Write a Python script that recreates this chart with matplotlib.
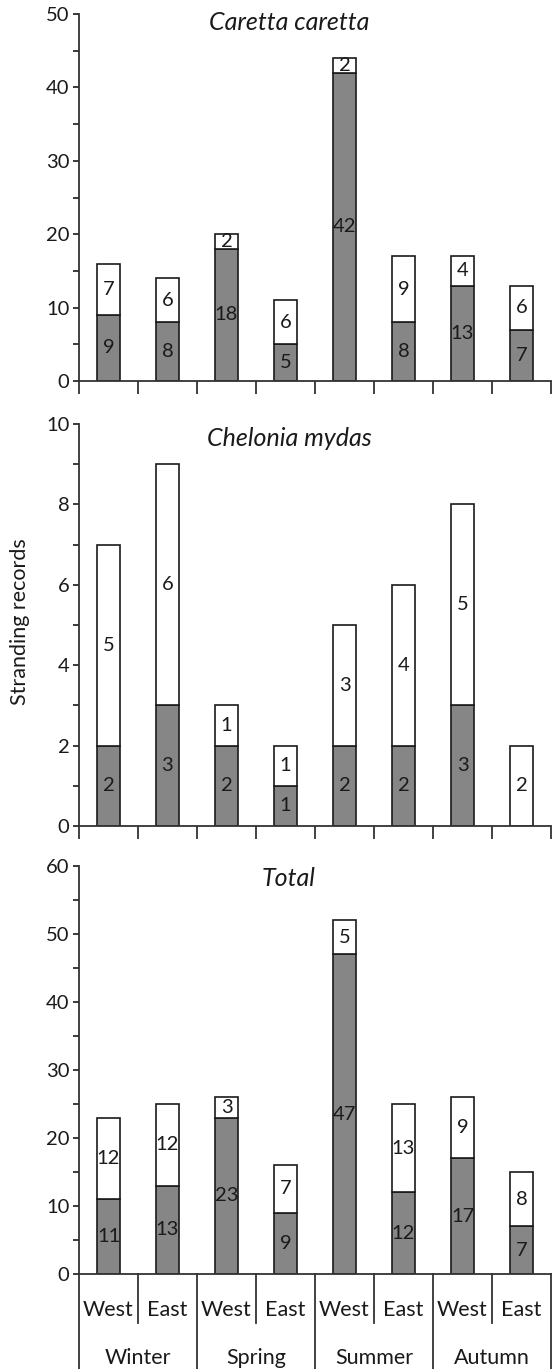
import matplotlib
matplotlib.use('Agg')
import matplotlib.pyplot as plt
import matplotlib.transforms as mtransforms
import numpy as np

plt.rcParams['font.family'] = ['Lato', 'DejaVu Sans']

sides = ['West', 'East'] * 4
seasons = ['Winter', 'Spring', 'Summer', 'Autumn']

caretta_grey = [9, 8, 18, 5, 42, 8, 13, 7]
caretta_white = [7, 6, 2, 6, 2, 9, 4, 6]
chelonia_grey = [2, 3, 2, 1, 2, 2, 3, 0]
chelonia_white = [5, 6, 1, 1, 3, 4, 5, 2]
total_grey = [11, 13, 23, 9, 47, 12, 17, 7]
total_white = [12, 12, 3, 7, 5, 13, 9, 8]

panels = [
    ('Caretta caretta', caretta_grey, caretta_white, 50, 5, 10),
    ('Chelonia mydas', chelonia_grey, chelonia_white, 10, 1, 2),
    ('Total', total_grey, total_white, 60, 5, 10),
]

W, H = 552, 1369
fig = plt.figure(figsize=(W / 100, H / 100), dpi=100)

# axes boxes in pixels: (y of zero, y of top)
boxes = [(381, 14), (826, 424), (1274, 866)]
left, right = 79, 551
title_y = [0.978, 0.965, 0.97]

x = np.arange(len(sides)) + 0.5
bw = 0.4

axes = []
for i, (title, grey, white, ymax, step, lab) in enumerate(panels):
    y0, y1 = boxes[i]
    ax = fig.add_axes([left / W, 1 - y0 / H, (right - left) / W, (y0 - y1) / H])
    axes.append(ax)
    ax.bar(x, grey, bw, color='#868686', edgecolor='#1a1a1a', linewidth=1.2, zorder=2)
    ax.bar(x, white, bw, bottom=grey, color='white', edgecolor='#1a1a1a',
           linewidth=1.2, zorder=2)
    for xi, g, w in zip(x, grey, white):
        if g > 0:
            ax.text(xi, g / 2, str(g), ha='center', va='center', fontsize=14.5, color='#1a1a1a', zorder=3)
        if w > 0:
            ax.text(xi, g + w / 2, str(w), ha='center', va='center', fontsize=14.5, color='#1a1a1a', zorder=3)

    ax.set_xlim(0, 8)
    ax.set_ylim(0, ymax)
    ticks = np.arange(0, ymax + 0.01, step)
    ax.set_yticks(ticks)
    ax.set_yticklabels([str(int(t)) if int(t) % lab == 0 else '' for t in ticks])
    ax.tick_params(axis='y', direction='out', length=4, width=1.2, labelsize=14.5,
                   colors='#1a1a1a', pad=3)
    for s in ['top', 'right']:
        ax.spines[s].set_visible(False)
    for s in ['left', 'bottom']:
        ax.spines[s].set_linewidth(1.3)
        ax.spines[s].set_color('#333333')
    ax.text(0.445, title_y[i], title, transform=ax.transAxes, ha='center', va='center',
            fontsize=18, style='italic', color='#1a1a1a')
    if i < 2:
        ax.set_xticks(np.arange(0, 9))
        ax.set_xticklabels([])
        ax.tick_params(axis='x', direction='out', length=9, width=1.3, colors='#333333')
    else:
        ax.set_xticks([])

# category labels under the bottom panel
ax = axes[2]
trans = mtransforms.blended_transform_factory(ax.transData, ax.transAxes)
for xi, s in zip(x, sides):
    ax.text(xi, -0.088, s, transform=trans, ha='center', va='center', fontsize=15.5, color='#1a1a1a')
for k, s in enumerate(seasons):
    ax.text(2 * k + 1, -0.206, s, transform=trans, ha='center', va='center', fontsize=15.5, color='#1a1a1a')
for b in range(0, 9):
    low = -0.12 if b % 2 == 1 else -0.24
    ax.plot([b, b], [0, low], transform=trans, color='#333333', lw=1.3, clip_on=False)

fig.text(0.036, 1 - 622 / H, 'Stranding records', rotation=90, ha='center', va='center',
         fontsize=15.5, color='#1a1a1a')

plt.savefig('out.png', dpi=100)
